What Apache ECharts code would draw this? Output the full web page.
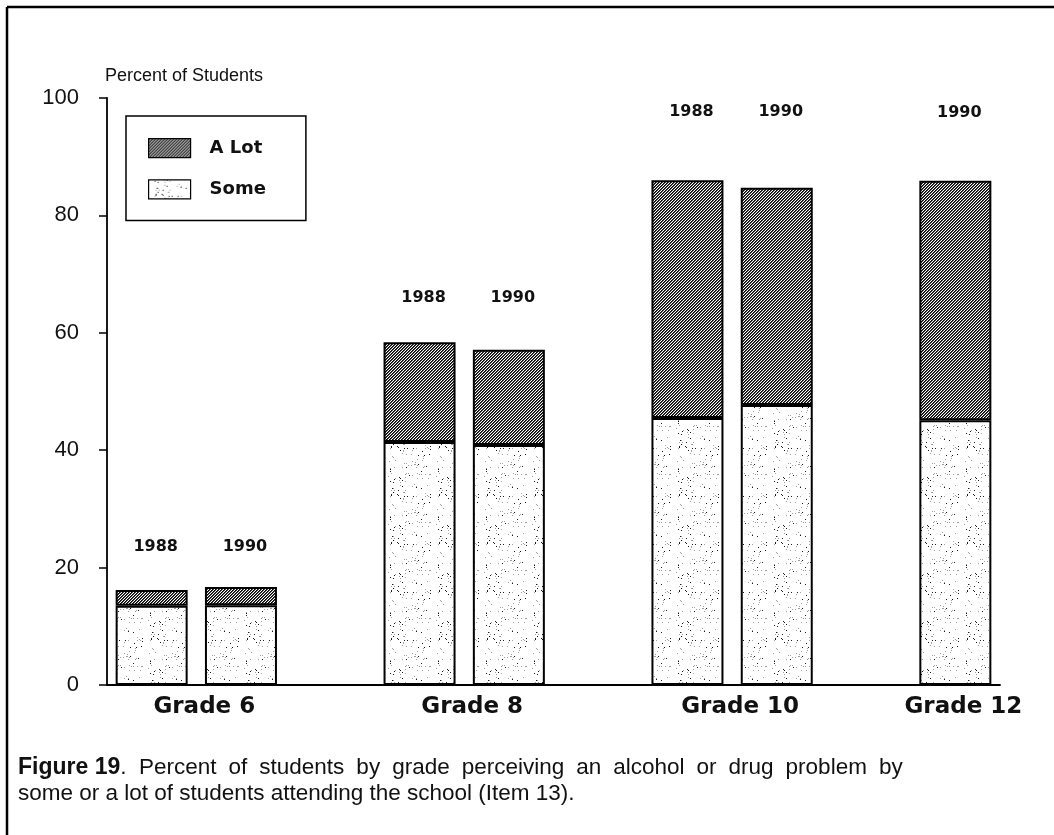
<!DOCTYPE html>
<html>
<head>
<meta charset="utf-8">
<script src="https://cdn.jsdelivr.net/npm/echarts@6/dist/echarts.min.js"></script>
<style>
  html, body { margin: 0; padding: 0; background: #fff; }
  #container { width: 1054px; height: 835px; }
</style>
</head>
<body>
<div id="container"></div>
<script>
// one slot per bar, empty slots separate the grades
const slots = ['G6-1988', 'G6-1990', 'gap1', 'G8-1988', 'G8-1990', 'gap2', 'G10-1988', 'G10-1990', 'gap3', 'G12-1990'];
const years = ['1988', '1990', '', '1988', '1990', '', '1988', '1990', '', '1990'];
const grades = ['Grade 6', 'Grade 8', 'Grade 10', 'Grade 12'];
const gradeSlots = [[0, 1], [3, 4], [6, 7], [9]];
const someVals = [13.5, 13.6, '-', 41.4, 40.9, '-', 45.5, 47.7, '-', 45.1];
const aLotVals = [2.7, 3.1, '-', 17.0, 16.2, '-', 40.5, 37.0, '-', 40.8];
const yTicks = [0, 20, 40, 60, 80, 100];

const captionLine1 = 'Percent of students by grade perceiving an alcohol or drug problem by';
const captionLine2 = 'some or a lot of students attending the school (Item 13).';

const yearLift = [40, 44, 68, 68]; // px above tallest bar of the group

function hatchPattern() {
  const c = document.createElement('canvas');
  c.width = 6; c.height = 6;
  const ctx = c.getContext('2d');
  ctx.fillStyle = '#fff';
  ctx.fillRect(0, 0, 6, 6);
  for (let y = 0; y < 6; y++) {
    for (let x = 0; x < 6; x++) {
      const k = (x + y) % 3;
      if (k === 0) { ctx.fillStyle = '#000'; ctx.fillRect(x, y, 1, 1); }
      else if (k === 1) { ctx.fillStyle = '#4a4a4a'; ctx.fillRect(x, y, 1, 1); }
    }
  }
  return c;
}

function stipplePattern() {
  const n = 48;
  const c = document.createElement('canvas');
  c.width = n; c.height = n;
  const ctx = c.getContext('2d');
  ctx.fillStyle = '#fff';
  ctx.fillRect(0, 0, n, n);
  let s = 12345;
  for (let i = 0; i < 100; i++) {
    s = (Math.imul(s, 1103515245) + 12345) >>> 0;
    const x = (s >>> 8) % n;
    s = (Math.imul(s, 1103515245) + 12345) >>> 0;
    const y = (s >>> 8) % n;
    ctx.fillStyle = i % 3 === 0 ? '#1a1a1a' : '#a0a0a0';
    ctx.fillRect(x, y, 1, 1);
  }
  return c;
}

const hatch = { image: hatchPattern(), repeat: 'repeat' };
const stipple = { image: stipplePattern(), repeat: 'repeat' };

var dom = document.getElementById('container');
var myChart = echarts.init(dom, null, { renderer: 'canvas' });

var option = {
  animation: false,
  backgroundColor: '#fff',
  title: {
    left: 13,
    top: 750,
    text: '{b|Figure 19}.  ' + captionLine1.split(' ').join('{s| }') + '\n' + captionLine2,
    textStyle: {
      fontFamily: 'Liberation Sans',
      fontSize: 22.5,
      fontWeight: 'normal',
      color: '#111',
      lineHeight: 26,
      rich: {
        b: { fontFamily: 'Liberation Sans', fontSize: 23, fontWeight: 'bold', color: '#111', lineHeight: 26 },
        s: { fontFamily: 'Liberation Sans', fontSize: 22.5, width: 12, lineHeight: 26 }
      }
    }
  },
  legend: {
    data: ['A Lot', 'Some'],
    orient: 'vertical',
    left: 126,
    top: 116,
    padding: [22, 40, 21, 22],
    borderColor: '#000',
    borderWidth: 1.5,
    icon: 'rect',
    itemWidth: 42,
    itemHeight: 19,
    itemGap: 21,
    selectedMode: false,
    itemStyle: { borderColor: '#000', borderWidth: 1.2 },
    textStyle: {
      fontFamily: 'DejaVu Sans',
      fontWeight: 'bold',
      fontSize: 18,
      color: '#111',
      padding: [0, 0, 0, 14]
    }
  },
  grid: {
    left: 107,
    right: 54,
    top: 98,
    bottom: 150,
    outerBoundsMode: 'none'
  },
  xAxis: {
    type: 'category',
    data: slots,
    boundaryGap: true,
    axisLine: { lineStyle: { color: '#000', width: 1.8 } },
    axisTick: { show: false },
    axisLabel: { show: false },
    splitLine: { show: false }
  },
  yAxis: {
    type: 'value',
    min: yTicks[0],
    max: yTicks[yTicks.length - 1],
    interval: yTicks[1] - yTicks[0],
    name: 'Percent of Students',
    nameLocation: 'end',
    nameGap: 13,
    nameTextStyle: {
      align: 'left',
      fontFamily: 'Liberation Sans',
      fontSize: 18,
      color: '#111',
      padding: [0, 0, 0, -2]
    },
    axisLine: { show: true, lineStyle: { color: '#000', width: 1.8 } },
    axisTick: { show: true, length: 8, lineStyle: { color: '#000', width: 1.5 } },
    axisLabel: {
      margin: 28,
      fontFamily: 'Liberation Sans',
      fontSize: 22,
      color: '#111'
    },
    splitLine: { show: false }
  },
  series: [
    {
      name: 'Some',
      type: 'bar',
      stack: 'total',
      barWidth: 72,
      silent: true,
      data: someVals,
      itemStyle: { color: stipple, borderColor: '#000', borderWidth: 2 }
    },
    {
      name: 'A Lot',
      type: 'bar',
      stack: 'total',
      barWidth: 72,
      silent: true,
      data: aLotVals,
      itemStyle: { color: hatch, borderColor: '#000', borderWidth: 2 }
    }
  ]
};

myChart.setOption(option);

// year labels over the bars and grade names under the axis
const gfx = [
  { type: 'line', shape: { x1: 7, y1: 7, x2: 1054, y2: 7 }, style: { stroke: '#000', lineWidth: 2.5 } },
  { type: 'line', shape: { x1: 7, y1: 7, x2: 7, y2: 835 }, style: { stroke: '#000', lineWidth: 2.5 } }
];
const axisY = myChart.convertToPixel({ yAxisIndex: 0 }, 0);
gradeSlots.forEach((idx, g) => {
  const xs = idx.map(i => myChart.convertToPixel({ xAxisIndex: 0 }, slots[i]));
  const topVal = Math.max(...idx.map(i => someVals[i] + aLotVals[i]));
  const topY = myChart.convertToPixel({ yAxisIndex: 0 }, topVal);
  idx.forEach((i, k) => {
    gfx.push({
      type: 'text',
      x: xs[k] + 4,
      y: topY - yearLift[g],
      style: {
        text: years[i],
        font: 'bold 16px "DejaVu Sans"',
        fill: '#111',
        textAlign: 'center', align: 'center',
        textVerticalAlign: 'middle', verticalAlign: 'middle'
      }
    });
  });
  const cx = xs.reduce((a, b) => a + b, 0) / xs.length;
  gfx.push({
    type: 'text',
    x: cx + 8,
    y: axisY + 22,
    style: {
      text: grades[g],
      font: 'bold 23px "DejaVu Sans"',
      fill: '#111',
      textAlign: 'center', align: 'center',
      textVerticalAlign: 'middle', verticalAlign: 'middle'
    }
  });
});
myChart.setOption({ graphic: { elements: gfx } });

window.addEventListener('resize', myChart.resize);
</script>
</body>
</html>
